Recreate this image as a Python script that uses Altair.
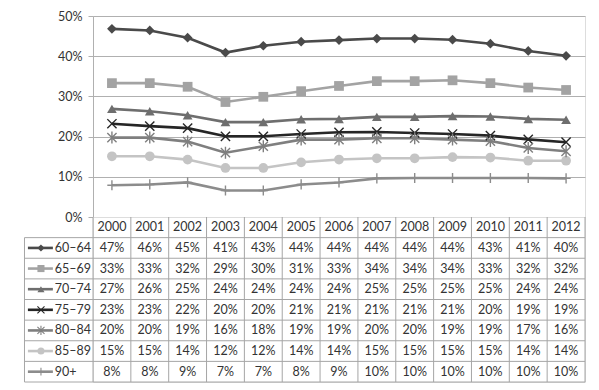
import altair as alt
import pandas as pd

years = [str(y) for y in range(2000, 2013)]
groups = ["60–64", "65–69", "70–74", "75–79", "80–84", "85–89", "90+"]

s60_64 = [0.468, 0.464, 0.446, 0.409, 0.426, 0.436, 0.440, 0.444, 0.444, 0.441, 0.431, 0.413, 0.401]
s65_69 = [0.333, 0.333, 0.324, 0.286, 0.299, 0.313, 0.326, 0.338, 0.338, 0.340, 0.333, 0.322, 0.316]
s70_74 = [0.269, 0.263, 0.253, 0.236, 0.236, 0.243, 0.244, 0.249, 0.249, 0.251, 0.250, 0.244, 0.242]
s75_79 = [0.232, 0.226, 0.221, 0.2007, 0.2007, 0.2065, 0.2107, 0.2115, 0.209, 0.2065, 0.2025, 0.193, 0.186]
s80_84 = [0.1975, 0.1975, 0.1876, 0.160, 0.176, 0.1925, 0.1925, 0.1958, 0.196, 0.1925, 0.189, 0.1717, 0.1634]
s85_89 = [0.151, 0.151, 0.1428, 0.122, 0.122, 0.136, 0.143, 0.146, 0.146, 0.149, 0.148, 0.140, 0.140]
s90p = [0.079, 0.081, 0.086, 0.066, 0.066, 0.081, 0.086, 0.096, 0.097, 0.097, 0.097, 0.097, 0.096]
series = [s60_64, s65_69, s70_74, s75_79, s80_84, s85_89, s90p]

colors = ["#4a4a4a", "#a3a3a3", "#6e6e6e", "#262626", "#7f7f7f", "#c4c4c4", "#8c8c8c"]
shapes = [
    "diamond",
    "square",
    "triangle-up",
    "M-1,-1L1,1M1,-1L-1,1",
    "M-1,-1L1,1M1,-1L-1,1M0,-1.3L0,1.3",
    "circle",
    "M0,-1.1L0,1.1M-1,0L1,0",
]
filled_groups = ["60–64", "65–69", "70–74", "85–89"]
stroked_groups = ["75–79", "80–84", "90+"]

FONT = "Lato"
TXT = "#333333"
GRID = "#b0b0b0"
TABLE_LINE = "#a6a6a6"

rows = []
for gi, (g, vals) in enumerate(zip(groups, series)):
    for i, (y, v) in enumerate(zip(years, vals)):
        rows.append({"group": g, "gi": gi, "year": y, "xi": i + 0.5, "value": v, "row": gi + 1.5})
df = pd.DataFrame(rows)

color_scale = alt.Scale(domain=groups, range=colors)
shape_scale = alt.Scale(domain=groups, range=shapes)
xs = alt.Scale(domain=[0, 13], nice=False, zero=False)

# ---------------- top: line chart ----------------
ys = alt.Scale(domain=[0, 0.5], nice=False)
base = alt.Chart(df)

lines = base.mark_line(strokeWidth=2.6).encode(
    x=alt.X("xi:Q", scale=xs, axis=None),
    y=alt.Y("value:Q", scale=ys, axis=alt.Axis(
        values=[0, 0.1, 0.2, 0.3, 0.4, 0.5], format=".0%", title=None,
        grid=True, gridColor=GRID, gridWidth=1,
        domain=True, domainColor=GRID, tickColor=GRID, tickSize=5,
        labelPadding=6, labelFont=FONT, labelFontSize=12.5, labelColor=TXT)),
    color=alt.Color("group:N", scale=color_scale, legend=None),
    detail="group:N",
)
pts_f = base.transform_filter(
    alt.FieldOneOfPredicate(field="group", oneOf=filled_groups)
).mark_point(filled=True, size=95, opacity=1).encode(
    x=alt.X("xi:Q", scale=xs),
    y=alt.Y("value:Q", scale=ys),
    color=alt.Color("group:N", scale=color_scale, legend=None),
    shape=alt.Shape("group:N", scale=shape_scale, legend=None),
)
pts_s = base.transform_filter(
    alt.FieldOneOfPredicate(field="group", oneOf=stroked_groups)
).mark_point(filled=False, size=85, strokeWidth=1.4, opacity=1).encode(
    x=alt.X("xi:Q", scale=xs),
    y=alt.Y("value:Q", scale=ys),
    color=alt.Color("group:N", scale=color_scale, legend=None),
    shape=alt.Shape("group:N", scale=shape_scale, legend=None),
)
top = alt.layer(lines, pts_f, pts_s).properties(width=492, height=201)

# ---------------- bottom: data table ----------------
LABEL_COL = -1.81
tys = alt.Scale(domain=[0, 8], nice=False, reverse=True)

hlines = pd.DataFrame({"y": list(range(1, 9)), "x1": LABEL_COL, "x2": 13})
vlines = pd.DataFrame({"x": list(range(0, 14)), "y1": 0, "y2": 8})
vleft = pd.DataFrame({"x": [LABEL_COL], "y1": [1], "y2": [8]})
header = pd.DataFrame({"year": years, "xi": [i + 0.5 for i in range(len(years))], "row": 0.5})
legend_df = pd.DataFrame({
    "group": groups, "row": [i + 1.5 for i in range(len(groups))],
    "lx1": -1.72, "lx2": -1.06, "mx": -1.375, "tx": -1.01,
})

hl = alt.Chart(hlines).mark_rule(color=TABLE_LINE, strokeWidth=1).encode(
    x=alt.X("x1:Q", scale=xs, axis=None), x2="x2:Q",
    y=alt.Y("y:Q", scale=tys, axis=None))
vl = alt.Chart(vlines).mark_rule(color=TABLE_LINE, strokeWidth=1).encode(
    x=alt.X("x:Q", scale=xs), y=alt.Y("y1:Q", scale=tys), y2="y2:Q")
vlft = alt.Chart(vleft).mark_rule(color=TABLE_LINE, strokeWidth=1).encode(
    x=alt.X("x:Q", scale=xs), y=alt.Y("y1:Q", scale=tys), y2="y2:Q")
head_txt = alt.Chart(header).mark_text(font=FONT, fontSize=12.5, color=TXT).encode(
    x=alt.X("xi:Q", scale=xs), y=alt.Y("row:Q", scale=tys), text="year:N")
cell_txt = alt.Chart(df).mark_text(font=FONT, fontSize=12.5, color=TXT).encode(
    x=alt.X("xi:Q", scale=xs), y=alt.Y("row:Q", scale=tys),
    text=alt.Text("value:Q", format=".0%"))
leg_line = alt.Chart(legend_df).mark_rule(strokeWidth=2.6).encode(
    x=alt.X("lx1:Q", scale=xs), x2="lx2:Q", y=alt.Y("row:Q", scale=tys),
    color=alt.Color("group:N", scale=color_scale, legend=None))
leg_pf = alt.Chart(legend_df).transform_filter(
    alt.FieldOneOfPredicate(field="group", oneOf=filled_groups)
).mark_point(filled=True, size=50, opacity=1).encode(
    x=alt.X("mx:Q", scale=xs), y=alt.Y("row:Q", scale=tys),
    color=alt.Color("group:N", scale=color_scale, legend=None),
    shape=alt.Shape("group:N", scale=shape_scale, legend=None))
leg_ps = alt.Chart(legend_df).transform_filter(
    alt.FieldOneOfPredicate(field="group", oneOf=stroked_groups)
).mark_point(filled=False, size=50, strokeWidth=1.1, opacity=1).encode(
    x=alt.X("mx:Q", scale=xs), y=alt.Y("row:Q", scale=tys),
    color=alt.Color("group:N", scale=color_scale, legend=None),
    shape=alt.Shape("group:N", scale=shape_scale, legend=None))
leg_txt = alt.Chart(legend_df).mark_text(font=FONT, fontSize=12.5, color=TXT, align="left").encode(
    x=alt.X("tx:Q", scale=xs), y=alt.Y("row:Q", scale=tys), text="group:N")

bottom = alt.layer(hl, vl, vlft, head_txt, cell_txt, leg_line, leg_pf, leg_ps, leg_txt).properties(
    width=492, height=165)

chart = alt.vconcat(top, bottom, spacing=0, bounds="flush").properties(
    padding={"left": 15, "top": 1, "right": 5, "bottom": 0}
).configure_view(stroke=None).configure(background="white")

chart.save("out.html", embed_options={"renderer": "svg", "actions": False})
